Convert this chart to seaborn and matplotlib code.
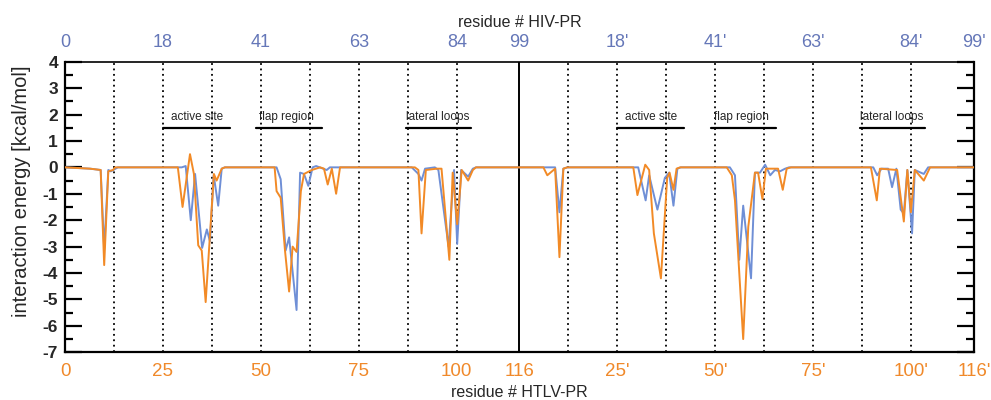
import matplotlib
matplotlib.use("Agg")
import matplotlib.pyplot as plt
from matplotlib.ticker import MultipleLocator
import seaborn as sns
import pandas as pd

# ---------------- data ----------------
# HTLV-PR (orange) per-residue interaction energy, vertices on the HTLV residue axis
htlv_x = [0, 6.4, 9.1, 10.0, 11.05, 12.25, 12.8,
          28.8, 30.0, 31.9, 32.9, 34.0, 34.9, 35.9, 38.0, 38.7, 40.0, 40.8,
          53.5, 54.0, 55.05, 56.15, 57.2, 58.1, 59.1, 60.2, 61.0, 63.0, 65.1, 66.1, 67.05, 68.1, 69.2, 70.2,
          89.3, 90.2, 91.0, 92.1, 94.9, 96.1, 98.1, 98.95, 100.1, 101.25, 102.9, 104.1, 104.9,
          121.1, 122.1, 123.1, 125.1, 126.2, 127.2, 128.2,
          145.05, 146.1, 148.1, 149.1, 150.3, 152.1, 153.7, 154.3, 155.3, 156.1, 157.0,
          168.9, 170.2, 171.0, 173.1, 174.4, 176.1, 176.9, 178.0, 178.9, 182.0, 183.2, 184.2, 185.3,
          205.7, 207.2, 208.0, 212.4, 214.1, 215.0, 215.9, 216.9, 219.2, 220.8, 232]
htlv_y = [0, -0.05, -0.1, -3.7, -0.15, -0.1, 0,
          0, -1.5, 0.5, -0.25, -2.95, -3.15, -5.1, -0.25, -0.5, -0.05, 0,
          0, -0.9, -1.15, -3.15, -4.7, -3.0, -3.2, -0.9, -0.25, -0.1, 0, -0.05, -0.65, -0.05, -1.0, 0,
          0, -0.1, -2.5, -0.1, -0.05, -0.05, -3.5, -0.2, -2.15, -0.1, -0.5, -0.1, 0,
          0, 0, -0.3, -0.05, -3.4, -0.05, 0,
          0, -1.05, 0.1, -0.1, -2.5, -4.2, -0.4, -0.2, -0.85, -0.05, 0,
          0, -0.3, -1.25, -6.5, -2.25, -0.2, -0.2, -1.2, -0.05, -0.05, -0.85, -0.05, 0,
          0, -1.25, -0.05, -0.1, -2.05, -0.1, -1.7, -0.1, -0.5, 0, 0]

# HIV-PR (blue), aligned onto the same axis
hiv_x = [0, 6.4, 9.1, 10.0, 11.05, 11.7, 12.9, 13.5,
         29.8, 30.8, 32.1, 33.2, 35.0, 36.2, 37.0, 37.95, 39.1, 40.0, 40.8,
         54.0, 55.05, 56.3, 57.2, 59.1, 60.0, 61.0, 62.1, 63.2, 64.1, 66.8, 67.6,
         88.5, 90.2, 91.0, 91.9, 94.4, 95.3, 97.9, 99.3, 100.1, 101.1, 102.9, 104.1, 104.9,
         124.0, 125.1, 126.2, 127.2, 128.2,
         146.3, 148.2, 149.1, 151.2, 153.1, 154.2, 155.3, 156.3, 157.2,
         169.7, 171.0, 172.1, 173.1, 175.1, 176.1, 177.4, 178.7, 180.0, 181.2, 182.5, 183.8, 184.8,
         206.3, 207.3, 208.4, 210.1, 211.1, 212.2, 213.3, 214.1, 215.0, 216.2, 216.9, 219.2, 220.3, 232]
hiv_y = [0, -0.05, -0.1, -3.1, -0.1, -0.15, -0.05, 0,
         0, 0.05, -2.0, -0.25, -3.05, -2.35, -2.8, -0.3, -1.45, -0.05, 0,
         0, -0.45, -3.15, -2.65, -5.4, -0.2, -0.25, -0.7, 0, 0.05, -0.1, 0,
         0, -0.25, -0.5, -0.05, 0, -0.1, -3.0, -0.1, -2.9, -0.1, -0.35, -0.05, 0,
         0, 0, -1.7, -0.05, 0,
         0, -1.25, -0.3, -1.6, -0.4, -0.2, -1.45, -0.05, 0,
         0, -0.3, -3.5, -1.45, -4.2, -0.2, -0.2, 0.1, -0.3, -0.1, -0.15, -0.05, 0,
         0, -0.3, -0.05, -0.05, -0.75, -0.05, -1.6, -1.75, -0.1, -2.5, -0.1, -0.25, 0, 0]

bottom_tick_pos = [0, 25, 50, 75, 100, 116, 141, 166, 191, 216, 232]
bottom_tick_labels = ["0", "25", "50", "75", "100", "116", "25'", "50'", "75'", "100'", "116'"]
top_tick_labels = ["0", "18", "41", "63", "84", "99", "18'", "41'", "63'", "84'", "99'"]
dotted_pos = [12.5, 25, 37.5, 50, 62.5, 75, 87.5, 100,
              128.5, 141, 153.5, 166, 178.5, 191, 203.5, 216]
monomer_boundary = 116

region_names = ["active site", "flap region", "lateral loops",
                "active site", "flap region", "lateral loops"]
region_start = [25, 48.8, 87, 141, 164.8, 203]
region_end = [42, 65.5, 103.5, 158, 181.5, 219.5]
region_text_x = [27, 49.6, 87, 143, 165.6, 203]

y_ticks = [4, 3, 2, 1, 0, -1, -2, -3, -4, -5, -6, -7]

# ---------------- style ----------------
sns.set_style("white")
plt.rcParams["font.family"] = ["Liberation Sans", "DejaVu Sans"]

ORANGE = "#f28a26"
BLUE = "#6f8fd6"
TOP_LBL = "#6577b8"
BOT_LBL = "#f0892a"

fig = plt.figure(figsize=(9.91, 4.0), dpi=100)
ax = fig.add_axes([0.0656, 0.1193, 0.9172, 0.7265])

hiv_df = pd.DataFrame({"residue": hiv_x, "energy": hiv_y})
htlv_df = pd.DataFrame({"residue": htlv_x, "energy": htlv_y})
sns.lineplot(data=hiv_df, x="residue", y="energy", ax=ax, color=BLUE,
             lw=1.4, sort=False, estimator=None, zorder=3)
sns.lineplot(data=htlv_df, x="residue", y="energy", ax=ax, color=ORANGE,
             lw=1.4, sort=False, estimator=None, zorder=4)

for xp in dotted_pos:
    ax.axvline(xp, color="black", lw=1.3, ls=(0, (1, 2.0)), zorder=2)
ax.axvline(monomer_boundary, color="black", lw=1.4, zorder=2)

for name, xs, xe, xt in zip(region_names, region_start, region_end, region_text_x):
    ax.plot([xs, xe], [1.48, 1.48], color="black", lw=1.6, zorder=5)
    ax.text(xt, 1.9, name, fontsize=8.5, ha="left", va="center", zorder=5)

ax.set_xlim(0, 232)
ax.set_ylim(-7, 4)
ax.set_xticks(bottom_tick_pos)
ax.set_xticklabels(bottom_tick_labels, color=BOT_LBL, fontsize=13.5,
                   family=["Liberation Sans Narrow", "Liberation Sans"])
ax.tick_params(axis="x", length=0, pad=8)
ax.set_yticks(y_ticks)
ax.set_yticklabels([str(t) for t in y_ticks], fontsize=12.5, fontweight="bold")
ax.yaxis.set_minor_locator(MultipleLocator(0.5))
ax.tick_params(axis="y", which="major", direction="in", length=12, width=1.6,
               left=True, right=True, pad=5, color="black")
ax.tick_params(axis="y", which="minor", direction="in", length=6, width=1.6,
               left=True, right=True, color="black")
ax.set_xlabel("residue # HTLV-PR", fontsize=11.5, labelpad=3)
ax.set_ylabel("interaction energy [kcal/mol]", fontsize=14.5)
ax.yaxis.set_label_coords(-0.037, 0.555)
for side in ["left", "bottom", "right"]:
    ax.spines[side].set_linewidth(1.6)
    ax.spines[side].set_color("black")
ax.spines["top"].set_linewidth(1.2)
ax.spines["top"].set_color("black")

top = ax.twiny()
top.set_xlim(ax.get_xlim())
top.set_xticks(bottom_tick_pos)
top.set_xticklabels(top_tick_labels, color=TOP_LBL, fontsize=13)
top.tick_params(axis="x", length=0, pad=8)
top.set_xlabel("residue # HIV-PR", fontsize=11.5, labelpad=5)
for s in top.spines.values():
    s.set_visible(False)
top.grid(False)
ax.grid(False)

fig.savefig("out.png", dpi=100)
